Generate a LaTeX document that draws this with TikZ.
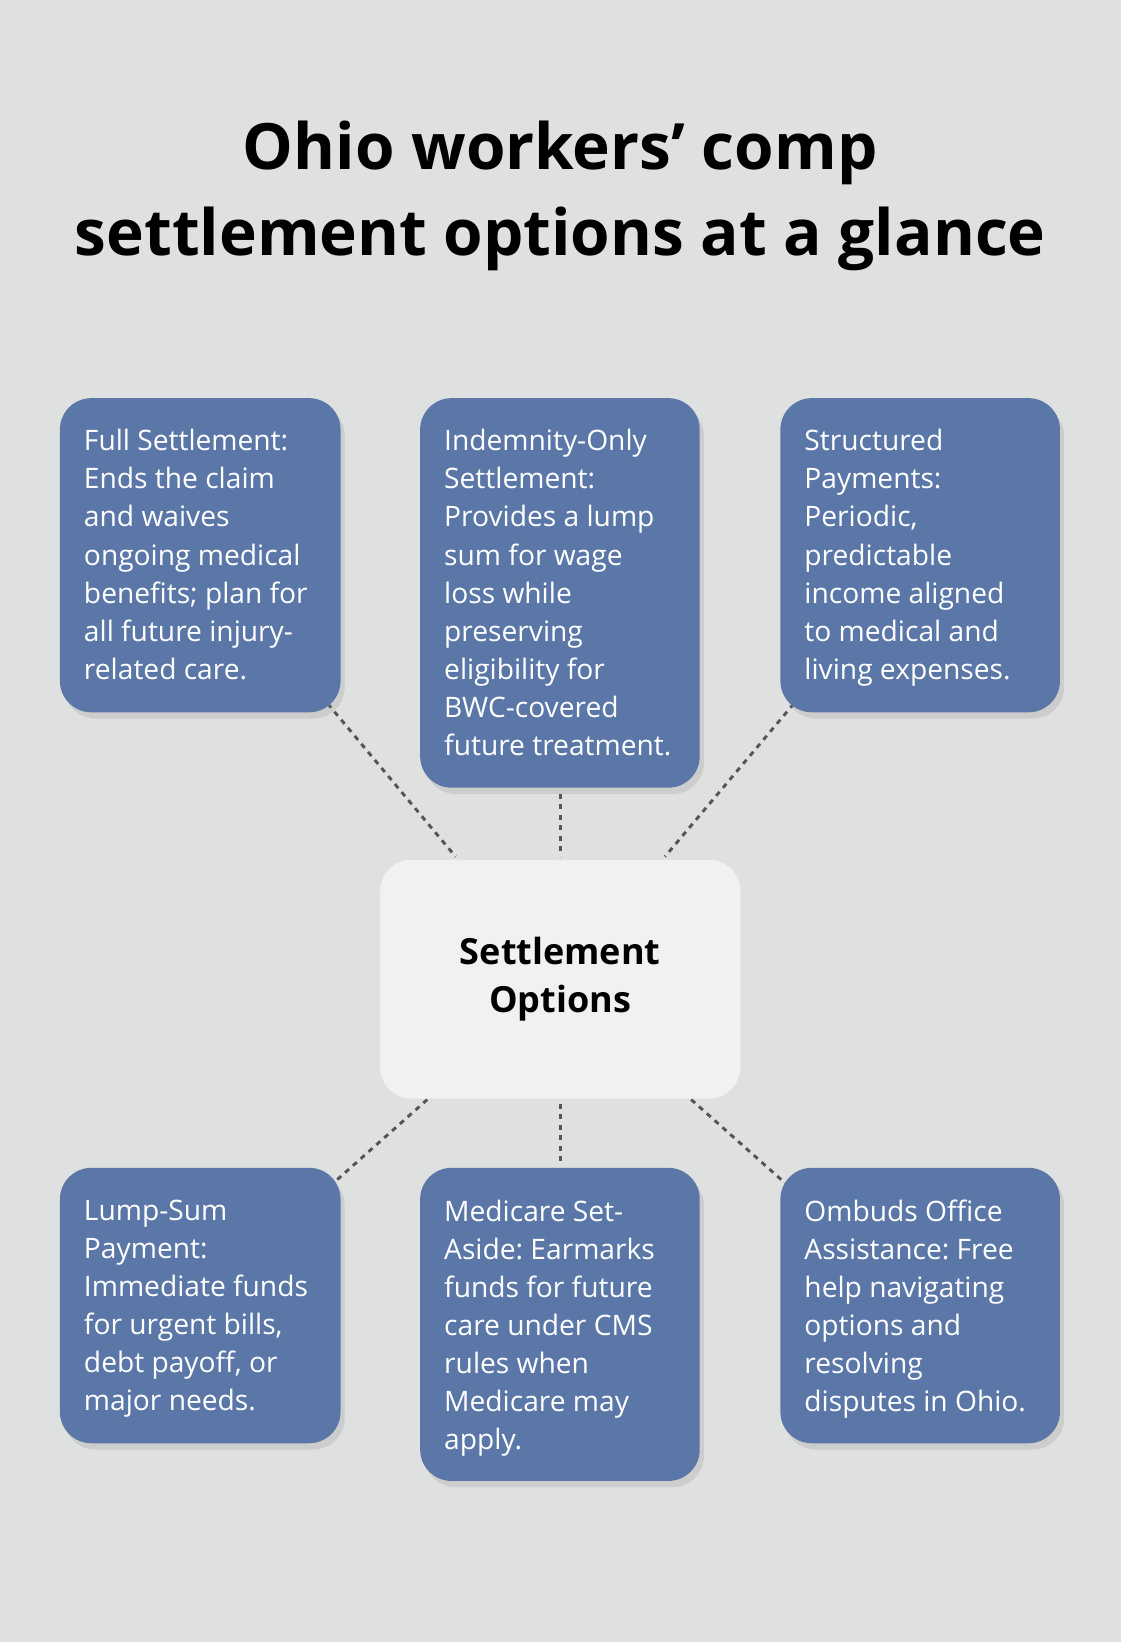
\documentclass[tikz,border=0pt]{standalone}
\usepackage{fontspec}
\setmainfont{Open Sans}
\frenchspacing
\usetikzlibrary{positioning,shadows}
\definecolor{bg}{HTML}{DFE1E0}
\definecolor{card}{HTML}{5B77A8}
\definecolor{hub}{HTML}{EFF1F3}
\definecolor{link}{HTML}{555555}
\tikzset{
  card/.style={fill=card, rounded corners=30pt, anchor=north west, inner sep=0pt,
    drop shadow={shadow xshift=4pt, shadow yshift=-6pt, opacity=0.2}},
  txt/.style={anchor=north west, inner sep=0pt, align=left, text=white,
    font=\fontsize{26.9}{36.3}\selectfont},
  link/.style={draw=link, line width=2.8pt, dash pattern=on 5pt off 5pt}
}
\begin{document}
\begin{tikzpicture}[x=1pt, y=-1pt]
\useasboundingbox[fill=bg] (0,0) rectangle (1070,1568);
% title
\node[font=\fontsize{61}{82}\selectfont\bfseries, align=center] (title) at (535,187)
  {Ohio workers’ comp\\settlement options at a glance};
% links
\draw[link] (313,672) -- (435,818);
\draw[link] (535,758) -- (535,818);
\draw[link] (758,672) -- (635,818);
\draw[link] (408,1050) -- (318,1130);
\draw[link] (535,1054) -- (535,1112);
\draw[link] (660,1050) -- (750,1130);
% hub
\node[fill=hub, rounded corners=30pt, minimum width=344pt, minimum height=228pt,
  font=\fontsize{34.4}{46}\selectfont\bfseries, align=center] (hub) at (535,935)
  {Settlement\\Options};
% top row
\node[card, minimum width=268pt, minimum height=300pt] (full) at (57,380) {};
\node[txt] (fullT) at (80,410) {Full Settlement:\\Ends the claim\\and waives\\ongoing medical\\benefits; plan for\\all future injury-\\related care.};
\node[card, minimum width=267pt, minimum height=372pt] (indem) at (401,380) {};
\node[txt] (indemT) at (424,410) {Indemnity-Only\\Settlement:\\Provides a lump\\sum for wage\\loss while\\preserving\\eligibility for\\BWC-covered\\future treatment.};
\node[card, minimum width=267pt, minimum height=300pt] (struct) at (745,380) {};
\node[txt] (structT) at (768,410) {Structured\\Payments:\\Periodic,\\predictable\\income aligned\\to medical and\\living expenses.};
% bottom row
\node[card, minimum width=268pt, minimum height=263pt] (lump) at (57,1115) {};
\node[txt] (lumpT) at (80,1146) {Lump-Sum\\Payment:\\Immediate funds\\for urgent bills,\\debt payoff, or\\major needs.};
\node[card, minimum width=267pt, minimum height=299pt] (msa) at (401,1115) {};
\node[txt] (msaT) at (424,1146) {Medicare Set-\\Aside: Earmarks\\funds for future\\care under CMS\\rules when\\Medicare may\\apply.};
\node[card, minimum width=267pt, minimum height=263pt] (ombuds) at (745,1115) {};
\node[txt] (ombudsT) at (768,1146) {Ombuds Office\\Assistance: Free\\help navigating\\options and\\resolving\\disputes in Ohio.};
\end{tikzpicture}
\end{document}
